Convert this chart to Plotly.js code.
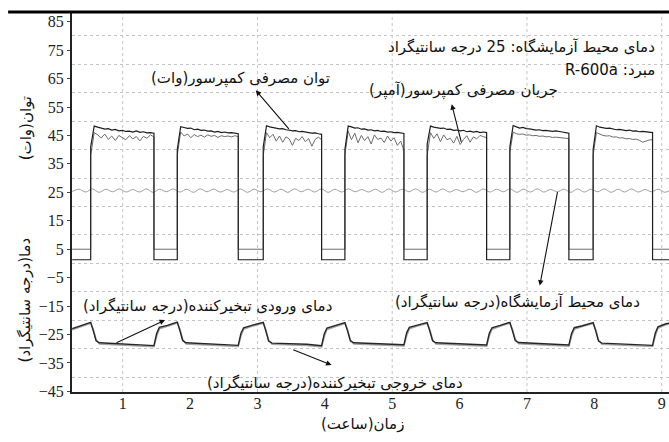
<!DOCTYPE html>
<html>
<head>
<meta charset="utf-8">
<script src="https://cdn.plot.ly/plotly-3.0.1.min.js"></script>
<style>html,body{margin:0;padding:0;background:#fff;}#chart{width:669px;height:442px;}</style>
</head>
<body>
<div id="chart"></div>
<script>
// ---------------- DATA ----------------
const recordSpan = [0.25, 9.11];                       // hours recorded
const compOn  = [0.525, 1.810, 3.086, 4.298, 5.519, 6.746, 7.982];
const compOff = [1.464, 2.715, 3.952, 5.174, 6.401, 7.622, 8.864];
const powerOffLevel = 1.3;     // W, compressor off
const currentOffLevel = 5.0;   // scaled current, compressor off

// compressor power (W), samples spread over each on-period
const powerOn = [
  [41, 48.3, 47.9, 47.6, 47.2, 47.4, 46.9, 47.1, 46.6, 46.8, 46.4, 46.5, 46.2, 46.6, 46.1, 46.3, 45.9, 46.0, 45.8],
  [40, 48.1, 47.8, 47.5, 47.6, 47.0, 47.2, 46.8, 46.9, 46.5, 46.6, 46.2, 46.4, 46.0, 46.2, 45.9, 46.0, 45.7, 45.6],
  [41, 48.4, 48.0, 47.8, 47.5, 47.3, 47.4, 47.0, 46.9, 46.6, 46.7, 46.3, 46.4, 46.1, 46.0, 45.8, 45.9, 45.6, 45.4],
  [40, 48.3, 48.0, 47.6, 47.7, 47.2, 47.3, 46.9, 47.0, 46.6, 46.8, 46.4, 46.5, 46.2, 46.3, 46.0, 46.1, 45.8, 45.7],
  [42, 48.3, 47.9, 47.7, 47.5, 47.6, 47.1, 47.2, 46.8, 46.9, 46.6, 46.8, 46.3, 46.5, 46.2, 46.4, 46.0, 46.2, 46.0],
  [41, 48.5, 48.0, 47.6, 47.8, 47.4, 47.3, 47.1, 46.9, 47.0, 46.7, 46.8, 46.5, 46.4, 46.6, 46.3, 46.2, 46.0, 45.8],
  [40, 48.4, 47.9, 47.7, 47.5, 47.6, 47.2, 47.0, 47.1, 46.8, 46.7, 46.9, 46.5, 46.6, 46.3, 46.4, 46.2, 46.1, 46.0]
];
// compressor current (A, scaled), samples spread over each on-period
const currentOn = [
  [38, 46.0, 45.2, 44.1, 45.5, 43.6, 44.8, 43.2, 45.0, 44.3, 43.5, 44.9, 43.8, 44.6, 43.1, 44.7, 44.0, 45.2, 44.5],
  [38, 46.2, 44.8, 45.5, 44.2, 45.3, 44.6, 45.1, 44.4, 45.2, 44.7, 45.0, 44.3, 44.9, 44.6, 44.8, 44.5, 44.9, 44.6],
  [38, 46.0, 44.2, 45.4, 43.0, 44.8, 42.6, 44.5, 43.8, 41.5, 44.0, 43.2, 44.6, 42.8, 43.9, 41.2, 43.6, 44.4, 43.5],
  [38, 46.5, 43.5, 45.8, 42.4, 45.0, 43.2, 44.6, 42.0, 45.2, 43.6, 44.1, 42.5, 44.8, 43.0, 44.2, 41.5, 43.0, 39.8],
  [38, 46.0, 44.0, 45.6, 42.8, 45.2, 43.5, 44.0, 42.3, 44.7, 41.8, 43.6, 44.9, 42.6, 44.5, 43.8, 45.0, 44.6, 44.2],
  [39, 46.2, 45.6, 45.4, 45.5, 45.1, 45.2, 44.9, 45.0, 44.7, 44.8, 44.5, 44.6, 44.3, 44.4, 44.2, 44.1, 44.0, 43.9],
  [38, 46.0, 45.4, 45.0, 44.8, 44.9, 44.4, 44.5, 44.1, 44.2, 43.8, 43.9, 43.6, 43.7, 43.3, 42.6, 43.0, 43.4, 43.5]
];

// lab ambient temperature (°C), sampled every 0.1 h from 0.25 h
const ambientStep = 0.1;
const ambientTemp = [
  25.3, 26.1, 25.1, 26.2, 25.0, 26.1, 25.2, 26.2, 25.1, 26.0,
  25.1, 26.2, 25.0, 26.1, 25.2, 26.2, 25.1, 26.1, 25.0, 26.2,
  25.2, 26.1, 25.1, 26.0, 25.1, 26.2, 25.0, 26.1, 25.2, 26.2,
  25.1, 26.1, 25.0, 26.2, 25.2, 26.1, 25.1, 26.2, 25.0, 26.1,
  25.1, 26.2, 25.2, 26.0, 25.1, 26.1, 25.0, 26.2, 25.1, 26.1,
  25.2, 26.2, 25.0, 26.1, 25.1, 26.2, 25.1, 26.0, 25.2, 26.1,
  25.0, 26.2, 25.1, 26.1, 25.2, 26.2, 25.0, 26.1, 25.1, 26.2,
  25.1, 26.0, 25.2, 26.1, 25.0, 26.2, 25.1, 26.1, 25.2, 26.2,
  25.0, 26.1, 25.1, 26.2, 25.1, 26.0, 25.2, 26.1, 25.0, 26.2
];

// evaporator inlet / outlet temperature (°C)
const evapTime = [0.25, 0.40,
  0.525, 0.565, 0.605, 0.655, 0.875, 1.175, 1.464, 1.504, 1.544, 1.664,
  1.810, 1.850, 1.890, 1.940, 2.160, 2.460, 2.715, 2.755, 2.795, 2.915,
  3.086, 3.126, 3.166, 3.216, 3.436, 3.736, 3.952, 3.992, 4.032, 4.152,
  4.298, 4.338, 4.378, 4.428, 4.648, 4.948, 5.174, 5.214, 5.254, 5.374,
  5.519, 5.559, 5.599, 5.649, 5.869, 6.169, 6.401, 6.441, 6.481, 6.601,
  6.746, 6.786, 6.826, 6.876, 7.096, 7.396, 7.622, 7.662, 7.702, 7.822,
  7.982, 8.022, 8.062, 8.112, 8.332, 8.632, 8.864, 8.904, 8.944, 9.064,
  9.11];
const evapIn = [-22.9, -21.7,
  -20.7, -23.8, -27.2, -27.9, -28.2, -28.5, -28.9, -24.6, -22.5, -21.8,
  -20.6, -23.7, -27.1, -27.9, -28.1, -28.4, -28.8, -24.5, -22.6, -21.8,
  -20.7, -23.9, -27.3, -28.0, -28.2, -28.4, -28.9, -24.7, -22.7, -21.9,
  -20.8, -23.8, -27.2, -27.9, -28.1, -28.3, -28.6, -24.4, -22.5, -21.7,
  -20.8, -23.9, -27.2, -27.9, -28.2, -28.4, -28.7, -24.5, -22.6, -21.8,
  -20.7, -23.8, -27.1, -27.8, -28.0, -28.3, -28.7, -24.6, -22.6, -21.9,
  -20.8, -23.9, -27.3, -28.0, -28.2, -28.4, -28.8, -24.5, -22.3, -21.2,
  -21.0];
const evapOut = [-23.3, -22.0,
  -21.0, -23.2, -26.8, -28.3, -28.6, -28.9, -29.3, -25.6, -23.0, -22.1,
  -20.9, -23.1, -26.7, -28.3, -28.5, -28.8, -29.2, -25.5, -23.1, -22.1,
  -21.0, -23.3, -26.9, -28.4, -28.6, -28.8, -29.3, -25.7, -23.2, -22.2,
  -21.1, -23.2, -26.8, -28.3, -28.5, -28.7, -29.0, -25.4, -23.0, -22.0,
  -21.1, -23.3, -26.8, -28.3, -28.6, -28.8, -29.1, -25.5, -23.1, -22.1,
  -21.0, -23.2, -26.7, -28.2, -28.4, -28.7, -29.1, -25.6, -23.1, -22.2,
  -21.1, -23.3, -26.9, -28.4, -28.6, -28.8, -29.2, -25.5, -22.8, -21.5,
  -21.3];

// tick labels
const yTickVals = [-45, -35, -25, -15, -5, 5, 15, 25, 35, 45, 55, 65, 75, 85];
const yGridVals = [-40, -30, -20, -10, 0, 10, 20, 30, 40, 50, 60, 70, 80];
const xTickVals = [1, 2, 3, 4, 5, 6, 7, 8, 9];
const xGridVals = [1, 3, 5, 7, 9];

// texts
const txtHeader = 'دمای محیط آزمایشگاه: 25 درجه سانتیگراد';
const txtRefrig = 'مبرد: R-600a';
const txtCurrent = 'جریان مصرفی کمپرسور(آمپر)';
const txtPower = 'توان مصرفی کمپرسور(وات)';
const txtAmbient = 'دمای محیط آزمایشگاه(درجه سانتیگراد)';
const txtInlet = 'دمای ورودی تبخیرکننده(درجه سانتیگراد)';
const txtOutlet = 'دمای خروجی تبخیرکننده(درجه سانتیگراد)';
const txtYPower = 'توان(وات)';
const txtYTemp = 'دما(درجه سانتیگراد)';
const txtX = 'زمان(ساعت)';

// ---------------- BUILD ----------------
const rtl = s => '\u202B' + s + '\u202C';

function squareWave(cycles, offLevel) {
  const x = [recordSpan[0]], y = [offLevel];
  cycles.forEach((vals, k) => {
    const a = compOn[k], b = compOff[k], n = vals.length;
    x.push(a); y.push(offLevel);
    vals.forEach((v, i) => { x.push(a + i * (b - a) / (n - 1)); y.push(v); });
    x.push(b); y.push(offLevel);
  });
  x.push(recordSpan[1]); y.push(offLevel);
  return {x, y};
}
const pw = squareWave(powerOn, powerOffLevel);
const cu = squareWave(currentOn, currentOffLevel);
const ambX = ambientTemp.map((v, i) => recordSpan[0] + i * ambientStep);

const serif = 'Liberation Serif, Times New Roman, serif';
const sans = 'DejaVu Sans, Arial, sans-serif';

const traces = [
  {x: ambX, y: ambientTemp, mode: 'lines', line: {color: '#a0a0a0', width: 1, shape: 'spline'}},
  {x: cu.x, y: cu.y, mode: 'lines', line: {color: '#6c6c6c', width: 1}},
  {x: pw.x, y: pw.y, mode: 'lines', line: {color: '#1e1e1e', width: 1.2}},
  {x: evapTime, y: evapOut, mode: 'lines', line: {color: '#a4a4a4', width: 1.6}},
  {x: evapTime, y: evapIn, mode: 'lines', line: {color: '#262626', width: 1.4}}
];

function arrow(hx, hy, tx, ty) {
  return {x: hx, y: hy, ax: tx, ay: ty, axref: 'x', ayref: 'y', xref: 'x', yref: 'y',
          text: '', showarrow: true, arrowhead: 2, arrowsize: 1, arrowwidth: 1.1,
          arrowcolor: '#111', standoff: 0, startstandoff: 0};
}
function label(text, x, y, anchor) {
  return {x: x, y: y, xref: 'x', yref: 'y', text: rtl(text), showarrow: false,
          xanchor: anchor || 'center', yanchor: 'middle',
          font: {family: sans, size: 15, color: '#111'}};
}

const vGrid = xGridVals.map(v => ({type: 'line', xref: 'x', yref: 'paper', x0: v, x1: v, y0: 0, y1: 1,
  layer: 'below', line: {color: '#c4c4c4', width: 1, dash: 'dot'}}));

const layout = {
  width: 669, height: 442,
  margin: {l: 72, r: 0, t: 12, b: 50, pad: 0},
  paper_bgcolor: '#fff', plot_bgcolor: '#fff',
  showlegend: false,
  xaxis: {range: [0.2475, 9.108], tickmode: 'array', tickvals: xTickVals,
          showgrid: false, zeroline: false, showline: true, linecolor: '#222', linewidth: 2,
          ticks: '', ticklabelstandoff: -4, tickfont: {family: serif, size: 16, color: '#222'}},
  yaxis: {range: [-45.2, 88.4], tickmode: 'array', tickvals: yTickVals,
          showgrid: false, zeroline: false, showline: true, linecolor: '#222', linewidth: 2,
          ticks: 'outside', ticklen: 3, tickcolor: '#444', tickwidth: 1,
          tickfont: {family: serif, size: 16, color: '#222'},
          minor: {tickmode: 'array', tickvals: yGridVals, showgrid: true, gridcolor: '#c4c4c4', griddash: 'dot', gridwidth: 1, ticks: ''}},
  shapes: vGrid.concat([{type: 'line', xref: 'paper', yref: 'paper', x0: -0.107, x1: 1, y0: 1, y1: 1,
            line: {color: '#000', width: 3}}]),
  annotations: [
    label(txtHeader, 8.926, 76.2, 'right'),
    label(txtRefrig, 8.926, 68.0, 'right'),
    label(txtCurrent, 6.055, 60.9),
    label(txtPower, 2.753, 65.1),
    label(txtAmbient, 6.86, -13.7),
    label(txtInlet, 2.262, -14.8),
    label(txtOutlet, 4.151, -42.1),
    arrow(2.975, 60.9, 3.485, 46.8),
    arrow(5.883, 56.0, 6.03, 42.2),
    arrow(7.19, -7.8, 7.457, 25.6),
    arrow(1.628, -19.9, 0.886, -28.1),
    arrow(4.10, -35.7, 3.508, -30.1),
    {xref: 'paper', yref: 'paper', x: -0.078, y: 0.695, text: rtl(txtYPower), textangle: -90, showarrow: false,
     xanchor: 'center', yanchor: 'middle', font: {family: sans, size: 15, color: '#111'}},
    {xref: 'paper', yref: 'paper', x: -0.078, y: 0.242, text: rtl(txtYTemp), textangle: -90, showarrow: false,
     xanchor: 'center', yanchor: 'middle', font: {family: sans, size: 15, color: '#111'}},
    {xref: 'paper', yref: 'paper', x: 0.486, y: -0.085, text: rtl(txtX), showarrow: false,
     xanchor: 'center', yanchor: 'middle', font: {family: sans, size: 15, color: '#111'}}
  ]
};

Plotly.newPlot('chart', traces, layout, {staticPlot: true, displayModeBar: false});
</script>
</body>
</html>
